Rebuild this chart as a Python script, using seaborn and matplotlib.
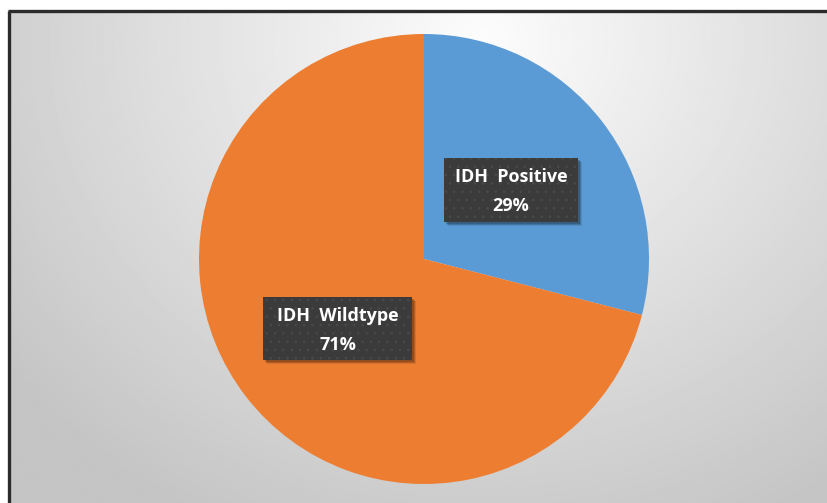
import numpy as np
import matplotlib
matplotlib.use("Agg")
import matplotlib.pyplot as plt
from matplotlib.patches import Rectangle
import seaborn as sns

categories = ["IDH  Positive", "IDH  Wildtype"]
shares = [29, 71]
slice_colors = ["#5B9BD5", "#ED7D31"]

sns.set_theme(style="white")
plt.rcParams["font.family"] = ["Open Sans", "DejaVu Sans"]
plt.rcParams["hatch.linewidth"] = 0.6

W, H = 828, 503
fig = plt.figure(figsize=(W / 100, H / 100), dpi=100)
fig.patch.set_facecolor("white")
ax = fig.add_axes([0, 0, 1, 1])

cx, cy, r = 424, H - 259, 225
ax.pie(shares, colors=slice_colors, startangle=90, counterclock=False,
       center=(cx, cy), radius=r, frame=True,
       wedgeprops=dict(linewidth=0, zorder=2))
ax.set_xlim(0, W)
ax.set_ylim(0, H)
ax.set_aspect("auto")
ax.set_axis_off()

# soft radial backdrop inside the frame
x0, ytop = 9, 11
xx, yy = np.meshgrid(np.linspace(x0, W, 400), np.linspace(H - ytop, 0, 250))
d = np.sqrt(((xx - 480) / 600) ** 2 + ((yy - (H - 40)) / 540) ** 2)
shade = np.clip(0.99 - 0.22 * d, 0.77, 1.0)
ax.imshow(shade, cmap="gray", vmin=0, vmax=1, extent=(x0, W + 4, -4, H - ytop),
          origin="upper", aspect="auto", zorder=0, interpolation="bilinear")
ax.set_xlim(0, W)
ax.set_ylim(0, H)

# frame lines on the left and top
ax.plot([x0, x0], [-4, H - ytop], color="#2b2b2b", lw=2.4, zorder=1, solid_capstyle="butt")
ax.plot([x0 - 1, W + 4], [H - ytop, H - ytop], color="#2b2b2b", lw=2.4, zorder=1,
        solid_capstyle="butt")

# label boxes: (left, top, right, bottom) in pixel space
boxes = [(444, 158, 578, 222), (263, 297, 412, 360)]
for (l, t, rgt, b), name, val in zip(boxes, categories, shares):
    w, h = rgt - l, b - t
    for k, a in [(4, 0.10), (3, 0.15), (2, 0.2)]:
        ax.add_patch(Rectangle((l + k, H - b - k), w, h, facecolor="black",
                               alpha=a, lw=0, zorder=3))
    ax.add_patch(Rectangle((l, H - b), w, h, facecolor="#3b3b3b", lw=0, zorder=4))
    ax.add_patch(Rectangle((l, H - b), w, h, facecolor="none", edgecolor="#4a4a4a",
                           hatch="..", lw=0, zorder=4.5))
    mx = l + w / 2
    ax.text(mx, H - (t + 19), name, color="white", fontsize=13, fontweight="bold",
            ha="center", va="center", zorder=5)
    ax.text(mx, H - (t + 48), f"{val}%", color="white", fontsize=13, fontweight="bold",
            ha="center", va="center", zorder=5)

fig.savefig("out.png", dpi=100)
